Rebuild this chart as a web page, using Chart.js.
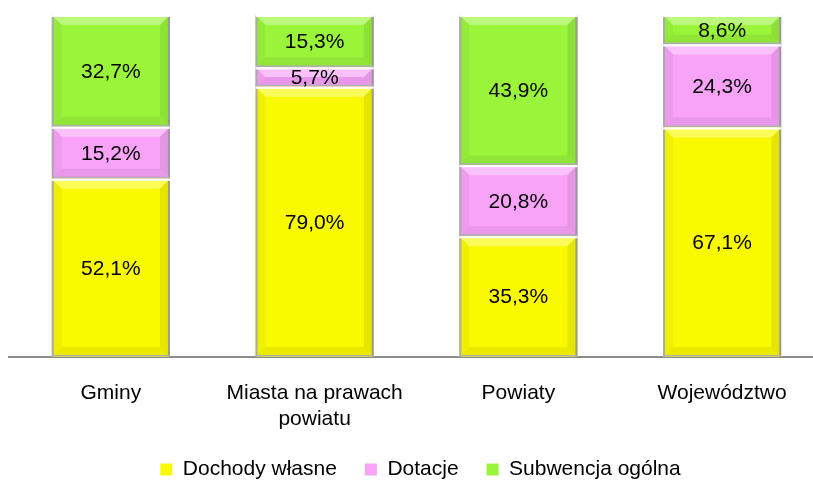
<!DOCTYPE html>
<html><head><meta charset="utf-8">
<script src="https://cdn.jsdelivr.net/npm/chart.js@4/dist/chart.umd.min.js"></script>
<style>html,body{margin:0;padding:0;overflow:hidden;background:#fff}#wrap{width:834px;height:486px;position:relative}</style>
</head><body><div id="wrap"><canvas id="c"></canvas></div>
<script>
const categories = ["Gminy", ["Miasta na prawach", "powiatu"], "Powiaty", "Województwo"];
const seriesNames = ["Dochody własne", "Dotacje", "Subwencja ogólna"];
const dochodyWlasne = [52.1, 79.0, 35.3, 67.1];
const dotacje = [15.2, 5.7, 20.8, 24.3];
const subwencja = [32.7, 15.3, 43.9, 8.6];
const colors = ["#F9F900", "#F8A2F8", "#9AF43A"];

const FONT = "'Liberation Sans', Arial, sans-serif";

const bevelPlugin = {
  id: 'bevel',
  afterDatasetDraw(chart, args) {
    const ctx = chart.ctx;
    const meta = args.meta;
    meta.data.forEach(el => {
      const l = el.x - el.width / 2, r = el.x + el.width / 2;
      const t = Math.min(el.y, el.base), bt = Math.max(el.y, el.base);
      const h = bt - t;
      const b = Math.min(10, h / 2);
      ctx.save();
      const poly = (pts, fill) => {
        ctx.beginPath(); ctx.moveTo(pts[0][0], pts[0][1]);
        for (let i = 1; i < pts.length; i++) ctx.lineTo(pts[i][0], pts[i][1]);
        ctx.closePath(); ctx.fillStyle = fill; ctx.fill();
      };
      poly([[l, t], [r, t], [r - b, t + b], [l + b, t + b]], 'rgba(255,255,255,0.35)');
      poly([[l, bt], [r, bt], [r - b, bt - b], [l + b, bt - b]], 'rgba(0,0,0,0.06)');
      poly([[l, t], [l + b, t + b], [l + b, bt - b], [l, bt]], 'rgba(0,0,0,0.04)');
      poly([[r, t], [r - b, t + b], [r - b, bt - b], [r, bt]], 'rgba(0,0,0,0.08)');
      ctx.fillStyle = '#ababab';
      ctx.fillRect(l, t, 2, h);
      ctx.fillStyle = '#9a9a9a';
      ctx.fillRect(r - 2, t, 2, h);
      ctx.fillStyle = '#ffffff';
      ctx.fillRect(l, t, r - l, 2);
      ctx.fillStyle = '#b0b0b0';
      ctx.fillRect(l, bt - 2, r - l, 1.5);
      ctx.restore();
    });
  }
};

const labelPlugin = {
  id: 'vlabels',
  afterLayout(chart) {
    if (chart.legend) { chart.legend.left += 4; chart.legend.right += 4; }
  },
  afterDatasetsDraw(chart) {
    const ctx = chart.ctx;
    ctx.save();
    ctx.font = "21px " + FONT;
    ctx.fillStyle = '#000';
    ctx.textAlign = 'center';
    ctx.textBaseline = 'middle';
    chart.data.datasets.forEach((ds, i) => {
      chart.getDatasetMeta(i).data.forEach((el, j) => {
        const v = ds.data[j];
        const txt = v.toFixed(1).replace('.', ',') + '%';
        ctx.fillText(txt, el.x, (el.y + el.base) / 2 + 1);
      });
    });
    ctx.restore();
  }
};

new Chart(document.getElementById('c'), {
  type: 'bar',
  data: {
    labels: categories,
    datasets: [
      { label: seriesNames[0], data: dochodyWlasne, backgroundColor: colors[0], borderColor: '#a8a8a8', borderWidth: 0 },
      { label: seriesNames[1], data: dotacje, backgroundColor: colors[1], borderColor: '#a8a8a8', borderWidth: 0 },
      { label: seriesNames[2], data: subwencja, backgroundColor: colors[2], borderColor: '#a8a8a8', borderWidth: 0 }
    ]
  },
  options: {
    responsive: true,
    maintainAspectRatio: false,
    animation: false,
    layout: { padding: { left: 9, right: 10, top: 15, bottom: -4 } },
    datasets: { bar: { barPercentage: 0.58, categoryPercentage: 1 } },
    scales: {
      x: {
        stacked: true,
        grid: { display: false },
        border: { display: true, color: '#8c8c8c', width: 2 },
        ticks: { color: '#000', font: { family: FONT, size: 21 }, padding: 16, maxRotation: 0, autoSkip: false },
        afterFit(scale) { scale.height = 74; }
      },
      y: {
        stacked: true, display: false, min: 0, max: 100
      }
    },
    plugins: {
      legend: {
        position: 'bottom',
        labels: {
          color: '#000',
          font: { family: FONT, size: 21 },
          boxWidth: 12, boxHeight: 12,
          padding: 28
        }
      },
      tooltip: { enabled: false }
    }
  },
  plugins: [bevelPlugin, labelPlugin]
});
</script></body></html>
